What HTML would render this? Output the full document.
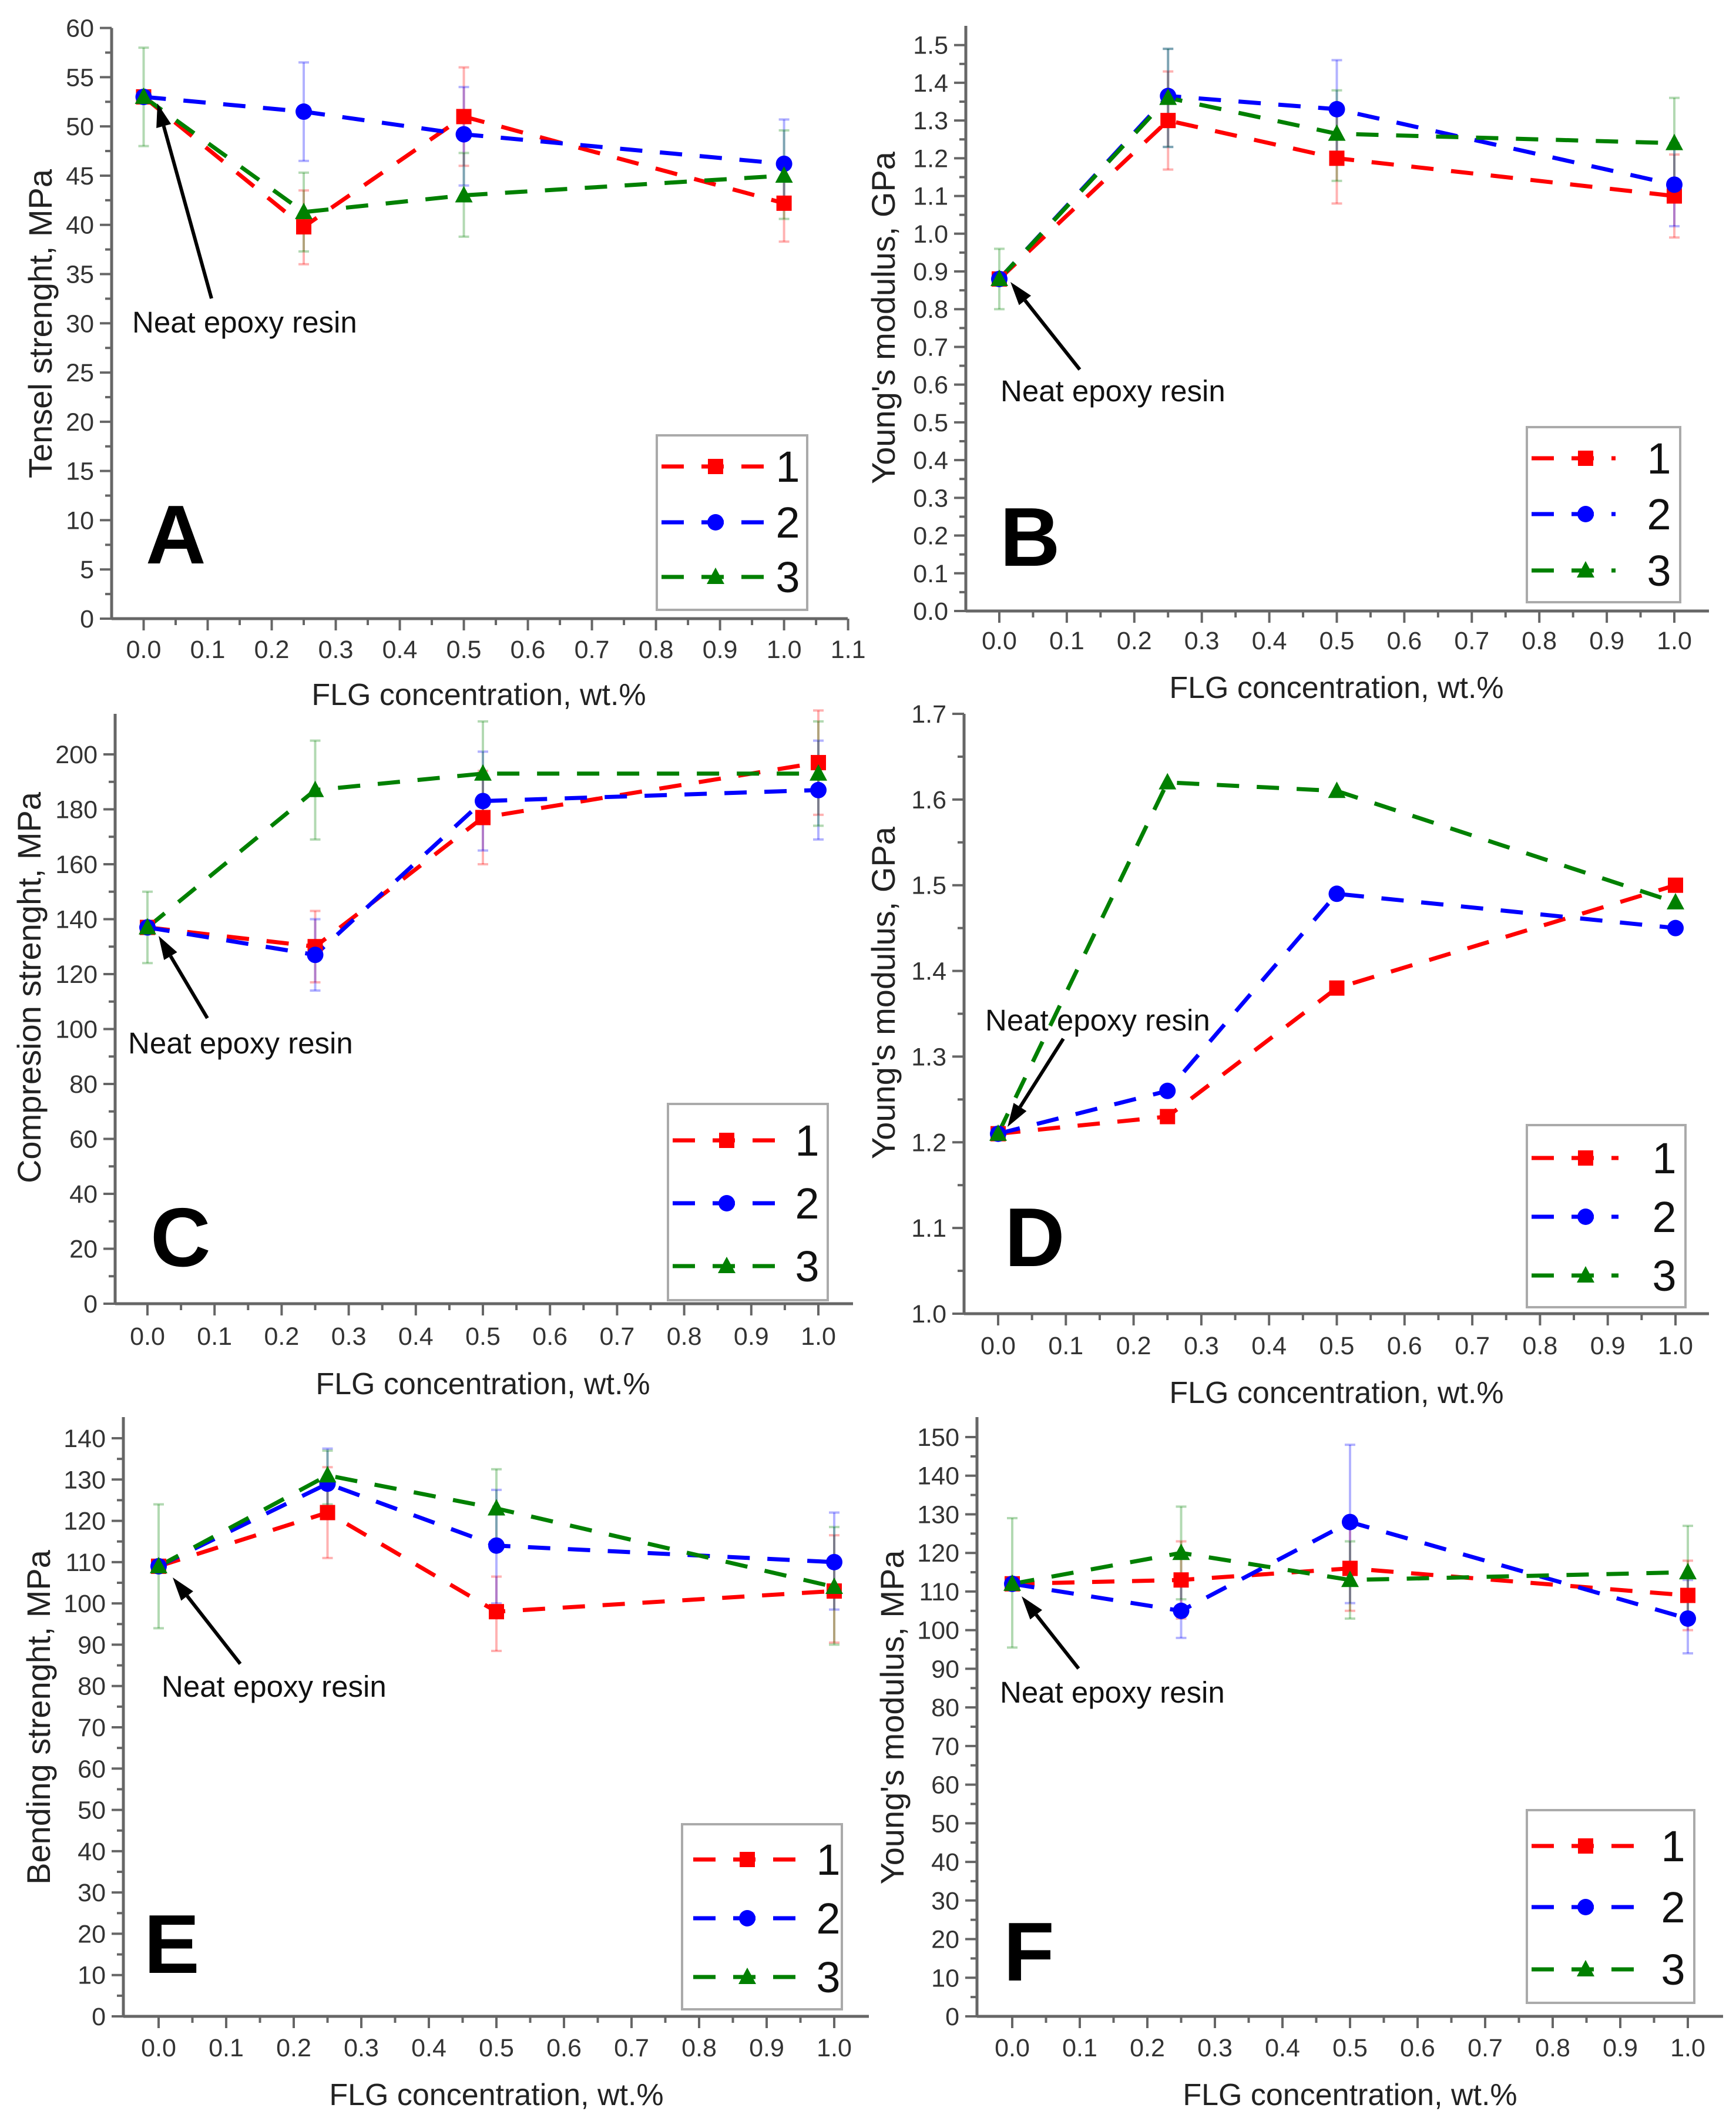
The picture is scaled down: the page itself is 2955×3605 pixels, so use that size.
<!DOCTYPE html>
<html><head><meta charset="utf-8"><style>
html,body{margin:0;padding:0;background:#fff}
svg{display:block}
text{font-family:"Liberation Sans",sans-serif}
</style></head><body>
<svg id="fig" width="2955" height="3605" viewBox="0 0 2955 3605" xmlns="http://www.w3.org/2000/svg"></svg>
<script>
// X categories (shared)
const flgConc = [0, 0.25, 0.5, 1.0];
// Panel A: tensile strength, MPa
const aS1 = [53, 39.8, 51, 42.2];
const aS2 = [53, 51.5, 49.2, 46.2];
const aS3 = [53, 41.3, 43, 45];
const aLo1 = [null, 36, 46, 38.3], aHi1 = [null, 43.5, 56, 46.2];
const aLo2 = [null, 46.5, 44, 41.8], aHi2 = [null, 56.5, 54, 50.7];
const aLo3 = [48, 37.3, 38.8, 40.6], aHi3 = [58, 45.3, 47.3, 49.6];
// Panel B: Young's modulus, GPa
const bS1 = [0.88, 1.30, 1.20, 1.10];
const bS2 = [0.88, 1.365, 1.33, 1.13];
const bS3 = [0.88, 1.36, 1.265, 1.24];
const bLo1 = [null, 1.17, 1.08, 0.99], bHi1 = [null, 1.43, 1.32, 1.21];
const bLo2 = [null, 1.23, 1.20, 1.02], bHi2 = [null, 1.49, 1.46, 1.24];
const bLo3 = [0.80, 1.23, 1.14, 1.12], bHi3 = [0.96, 1.49, 1.38, 1.36];
// Panel C: compression strength, MPa
const cS1 = [137, 130, 177, 197];
const cS2 = [137, 127, 183, 187];
const cS3 = [137, 187, 193, 193];
const cLo1 = [null, 117, 160, 178], cHi1 = [null, 143, 194, 216];
const cLo2 = [null, 114, 165, 169], cHi2 = [null, 140, 201, 205];
const cLo3 = [124, 169, 175, 174], cHi3 = [150, 205, 212, 212];
// Panel D: Young's modulus, GPa
const dS1 = [1.21, 1.23, 1.38, 1.50];
const dS2 = [1.21, 1.26, 1.49, 1.45];
const dS3 = [1.21, 1.62, 1.61, 1.48];
// Panel E: bending strength, MPa
const eS1 = [109, 122, 98, 103];
const eS2 = [109, 129, 114, 110];
const eS3 = [109, 131, 123, 104];
const eLo1 = [null, 111, 88.5, 90.5], eHi1 = [null, 133, 106.5, 116.5];
const eLo2 = [null, 121, 100, 98.5], eHi2 = [null, 137.5, 127.5, 122];
const eLo3 = [94, 124, 113, 90], eHi3 = [124, 137, 132.5, 118.5];
// Panel F: Young's modulus, MPa
const fS1 = [112, 113, 116, 109];
const fS2 = [112, 105, 128, 103];
const fS3 = [112, 120, 113, 115];
const fLo1 = [null, 103, 105, 100], fHi1 = [null, 123, 127, 118];
const fLo2 = [null, 98, 107, 94], fHi2 = [null, 112, 148, 113];
const fLo3 = [95.5, 108, 103, 103], fHi3 = [129, 132, 123, 127];
// Legend labels
const legendLabels = ['1', '2', '3'];

const NS = 'http://www.w3.org/2000/svg';
const svg = document.getElementById('fig');
const COLORS = ['#ff0000', '#0000ff', '#008000'];
function mk(tag, attrs, parent) {
  const e = document.createElementNS(NS, tag);
  for (const k in attrs) e.setAttribute(k, attrs[k]);
  (parent || svg).appendChild(e);
  return e;
}
function marker(g, kind, x, y, color) {
  let m;
  if (kind === 0) m = mk('rect', {x: x - 13, y: y - 13, width: 26, height: 26, fill: color}, g);
  else if (kind === 1) m = mk('circle', {cx: x, cy: y, r: 14, fill: color}, g);
  else m = mk('polygon', {points: `${x},${y - 16} ${x + 15},${y + 12} ${x - 15},${y + 12}`, fill: color}, g);
  
  
  return m;
}

function panel(c) {
  const g = mk('g', {});
  
  
  const sx = v => c.x0 + v * (c.x1 - c.x0);
  const sy = v => c.yb - (v - c.ymin) / (c.ymax - c.ymin) * (c.yb - c.yt);
  const ax = mk('line', {x1: c.al, y1: c.yb, x2: c.al, y2: c.atop, stroke: '#666', 'stroke-width': 5}, g);
   
  const bx = mk('line', {x1: c.al, y1: c.yb, x2: c.ar, y2: c.yb, stroke: '#666', 'stroke-width': 5}, g);
   
  const nMinor = Math.round((c.ymax - c.ymin) / c.yminor);
  for (let i = 0; i <= nMinor; i++) {
    const v = c.ymin + i * c.yminor;
    const major = i % Math.round(c.ystep / c.yminor) === 0;
    const y = sy(v);
    mk('line', {x1: c.al - (major ? 20 : 11), y1: y, x2: c.al, y2: y, stroke: '#666', 'stroke-width': 4}, g);
    if (major) {
      const t = mk('text', {x: c.al - 30, y: y + 15, 'text-anchor': 'end', 'font-size': 43, fill: '#333'}, g);
      t.textContent = v.toFixed(c.dec);
       
    }
  }
  const nx = Math.round(c.xmax / 0.05);
  for (let i = 0; i <= nx; i++) {
    const v = i * 0.05, x = sx(v), major = i % 2 === 0;
    mk('line', {x1: x, y1: c.yb, x2: x, y2: c.yb + (major ? 20 : 11), stroke: '#666', 'stroke-width': 4}, g);
    if (major) {
      const t = mk('text', {x: x, y: c.xly, 'text-anchor': 'middle', 'font-size': 43, fill: '#333'}, g);
      t.textContent = v.toFixed(1);
       
    }
  }
  const xt = mk('text', {x: c.xtx, y: c.xty, 'text-anchor': 'middle', 'font-size': 52, fill: '#222'}, g);
  xt.textContent = 'FLG concentration, wt.%';
   
  const yt = mk('text', {x: 0, y: 0, 'text-anchor': 'middle', 'font-size': 56, fill: '#222', transform: `translate(${c.ytx},${c.yty}) rotate(-90)`}, g);
  yt.textContent = c.ytitle;
   
  c.series.forEach((s, k) => {
    if (!s.lo) return;
    flgConc.forEach((xv, i) => {
      if (s.lo[i] == null) return;
      const x = sx(xv), y1 = sy(s.lo[i]), y2 = sy(s.hi[i]);
      const eg = mk('g', {stroke: COLORS[k], 'stroke-opacity': 0.3, 'stroke-width': 4}, g);
       
      mk('line', {x1: x, y1: y1, x2: x, y2: y2}, eg);
      mk('line', {x1: x - 9, y1: y1, x2: x + 9, y2: y1}, eg);
      mk('line', {x1: x - 9, y1: y2, x2: x + 9, y2: y2}, eg);
    });
  });
  c.series.forEach((s, k) => {
    const pts = flgConc.map((xv, i) => sx(xv) + ',' + sy(s.v[i])).join(' ');
    const pl = mk('polyline', {points: pts, fill: 'none', stroke: COLORS[k], 'stroke-width': 7, 'stroke-dasharray': '38 30'}, g);
     
  });
  c.series.forEach((s, k) => {
    flgConc.forEach((xv, i) => marker(g, k, sx(xv), sy(s.v[i]), COLORS[k]));
  });
  const L = c.leg;
  const lb = mk('rect', {x: L.x, y: L.y, width: L.w, height: L.h, fill: '#fff', stroke: '#aaa', 'stroke-width': 4}, g);
   
  legendLabels.forEach((lab, k) => {
    const y = L.ey[k];
    const le = mk('g', {}, g);
     
    mk('line', {x1: L.l1, y1: y, x2: L.l2, y2: y, stroke: COLORS[k], 'stroke-width': 7, 'stroke-dasharray': '38 30'}, le);
    marker(le, k, L.l1 + 92, y, COLORS[k]);
    const t = mk('text', {x: L.nx, y: y + 26, 'text-anchor': 'middle', 'font-size': 74, fill: '#111'}, le);
    t.textContent = lab;
  });
  const lt = mk('text', {x: c.lx, y: c.lby, 'font-size': 142, 'font-weight': 'bold', fill: '#000'}, g);
  lt.textContent = c.id;
   
  const nt = mk('text', {x: c.nx, y: c.ny + 17, 'font-size': 51, fill: '#111'}, g);
  nt.textContent = 'Neat epoxy resin';
   
  const [x1, y1, x2, y2] = c.arr;
  const ang = Math.atan2(y2 - y1, x2 - x1);
  const hx = x2 - 40 * Math.cos(ang), hy = y2 - 40 * Math.sin(ang);
  const ar = mk('g', {}, g);
   
  mk('line', {x1: x1, y1: y1, x2: hx, y2: hy, stroke: '#000', 'stroke-width': 6}, ar);
  const px = -Math.sin(ang) * 13, py = Math.cos(ang) * 13;
  mk('polygon', {points: `${x2},${y2} ${hx + px},${hy + py} ${hx - px},${hy - py}`, fill: '#000'}, ar);
}

panel({id: 'A', x0: 244.5, x1: 1334.6, al: 190, ar: 1443, xmax: 1.1, yb: 1053, yt: 47.6, atop: 47.6,
  ymin: 0, ymax: 60, ystep: 5, yminor: 2.5, dec: 0, xly: 1120, xtx: 815, xty: 1200,
  ytx: 88, yty: 551, ytitle: 'Tensel strenght, MPa',
  series: [{v: aS1, lo: aLo1, hi: aHi1}, {v: aS2, lo: aLo2, hi: aHi2}, {v: aS3, lo: aLo3, hi: aHi3}],
  leg: {x: 1118, y: 741, w: 256, h: 297, ey: [794, 889, 982], l1: 1126, l2: 1308, nx: 1341},
  lx: 248, lby: 959, nx: 225, ny: 549, arr: [360, 508, 268, 176]});

panel({id: 'B', x0: 1701, x1: 2850, al: 1644, ar: 2909, xmax: 1.0, yb: 1040, yt: 76.7, atop: 44,
  ymin: 0, ymax: 1.5, ystep: 0.1, yminor: 0.05, dec: 1, xly: 1105, xtx: 2275, xty: 1188,
  ytx: 1523, yty: 541, ytitle: "Young's modulus, GPa",
  series: [{v: bS1, lo: bLo1, hi: bHi1}, {v: bS2, lo: bLo2, hi: bHi2}, {v: bS3, lo: bLo3, hi: bHi3}],
  leg: {x: 2599, y: 727, w: 261, h: 298, ey: [780, 875, 971], l1: 2607, l2: 2750, nx: 2824},
  lx: 1702, lby: 963, nx: 1703, ny: 666, arr: [1838, 629, 1720, 480]});

panel({id: 'C', x0: 251, x1: 1393, al: 196, ar: 1452, xmax: 1.0, yb: 2219, yt: 1284, atop: 1215,
  ymin: 0, ymax: 200, ystep: 20, yminor: 10, dec: 0, xly: 2289, xtx: 822, xty: 2373,
  ytx: 69, yty: 1681, ytitle: 'Compresion strenght, MPa',
  series: [{v: cS1, lo: cLo1, hi: cHi1}, {v: cS2, lo: cLo2, hi: cHi2}, {v: cS3, lo: cLo3, hi: cHi3}],
  leg: {x: 1137, y: 1879, w: 272, h: 334, ey: [1941, 2048, 2155], l1: 1145, l2: 1330, nx: 1374},
  lx: 256, lby: 2155, nx: 218, ny: 1776, arr: [353, 1733, 270, 1593]});

panel({id: 'D', x0: 1699, x1: 2852, al: 1641, ar: 2909, xmax: 1.0, yb: 2236, yt: 1215, atop: 1215,
  ymin: 1.0, ymax: 1.7, ystep: 0.1, yminor: 0.05, dec: 1, xly: 2305, xtx: 2275, xty: 2388,
  ytx: 1523, yty: 1690, ytitle: "Young's modulus, GPa",
  series: [{v: dS1}, {v: dS2}, {v: dS3}],
  leg: {x: 2599, y: 1915, w: 270, h: 310, ey: [1971, 2071, 2171], l1: 2607, l2: 2755, nx: 2833},
  lx: 1710, lby: 2155, nx: 1677, ny: 1737, arr: [1810, 1768, 1715, 1918]});

panel({id: 'E', x0: 270, x1: 1420, al: 210, ar: 1479, xmax: 1.0, yb: 3432, yt: 2448, atop: 2412,
  ymin: 0, ymax: 140, ystep: 10, yminor: 5, dec: 0, xly: 3500, xtx: 845, xty: 3583,
  ytx: 85, yty: 2923, ytitle: 'Bending strenght, MPa',
  series: [{v: eS1, lo: eLo1, hi: eHi1}, {v: eS2, lo: eLo2, hi: eHi2}, {v: eS3, lo: eLo3, hi: eHi3}],
  leg: {x: 1161, y: 3105, w: 272, h: 315, ey: [3165, 3265, 3365], l1: 1180, l2: 1365, nx: 1410},
  lx: 245, lby: 3358, nx: 275, ny: 2871, arr: [409, 2832, 294, 2685]});

panel({id: 'F', x0: 1723, x1: 2873, al: 1663, ar: 2933, xmax: 1.0, yb: 3432, yt: 2446, atop: 2412,
  ymin: 0, ymax: 150, ystep: 10, yminor: 5, dec: 0, xly: 3500, xtx: 2298, xty: 3583,
  ytx: 1538, yty: 2923, ytitle: "Young's modulus, MPa",
  series: [{v: fS1, lo: fLo1, hi: fHi1}, {v: fS2, lo: fLo2, hi: fHi2}, {v: fS3, lo: fLo3, hi: fHi3}],
  leg: {x: 2599, y: 3081, w: 285, h: 328, ey: [3142, 3246, 3352], l1: 2607, l2: 2800, nx: 2848},
  lx: 1708, lby: 3371, nx: 1702, ny: 2881, arr: [1836, 2840, 1739, 2717]});
</script>
</body></html>
